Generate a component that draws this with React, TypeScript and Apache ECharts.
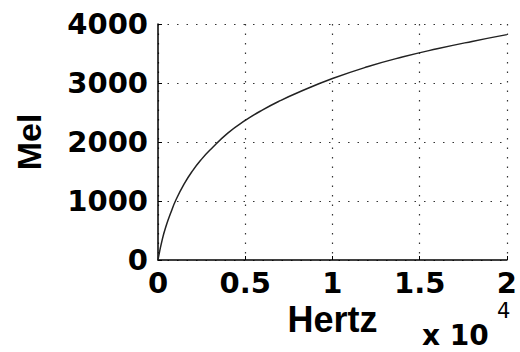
import React, { useEffect, useRef } from "react";
import * as echarts from "echarts";

const hertz = [0, 250, 500, 750, 1000, 1500, 2000, 2500, 3000, 4000, 5000, 6000, 7000, 8000, 10000, 12000, 14000, 16000, 18000, 20000];
const mel = [0, 355, 610, 815, 1000, 1290, 1520, 1710, 1870, 2150, 2365, 2545, 2700, 2835, 3075, 3275, 3440, 3580, 3705, 3820];
const xTicks = ["0", "0.5", "1", "1.5", "2"];
const yTicks = ["0", "1000", "2000", "3000", "4000"];

export default function App() {
  const ref = useRef<HTMLDivElement>(null);
  useEffect(() => {
    if (!ref.current) return;
    const chart = echarts.init(ref.current, null, { renderer: "svg" });
    const tickFont = { fontFamily: "DejaVu Sans", fontWeight: "bold" as const, fontSize: 29, color: "#000" };
    const grid = { type: [1.5, 8] as any, color: "#333", width: 1.2 };
    chart.setOption({
      animation: false,
      backgroundColor: "#fff",
      grid: { left: 158, top: 24, right: 12, bottom: 92, containLabel: false },
      xAxis: {
        type: "value",
        min: 0,
        max: 20000,
        interval: 5000,
        name: "Hertz",
        nameLocation: "middle",
        nameGap: 29,
        nameTextStyle: { fontFamily: "Liberation Sans", fontWeight: "bold", fontSize: 36, color: "#000" },
        axisLine: { show: true, onZero: false, lineStyle: { color: "#000", width: 1.5 } },
        axisTick: { show: true, inside: true, length: 4, lineStyle: { color: "#000" } },
        axisLabel: { ...tickFont, margin: 8, formatter: (v: number) => xTicks[Math.round(v / 5000)] },
        splitLine: { show: true, lineStyle: grid },
      },
      yAxis: {
        type: "value",
        min: 0,
        max: 4000,
        interval: 1000,
        name: "Mel",
        nameLocation: "middle",
        nameGap: 112,
        nameRotate: 90,
        nameTextStyle: { fontFamily: "Liberation Sans", fontWeight: "bold", fontSize: 34, color: "#000" },
        axisLine: { show: true, lineStyle: { color: "#000", width: 1.5 } },
        axisTick: { show: true, inside: true, length: 4, lineStyle: { color: "#000" } },
        axisLabel: { ...tickFont, margin: 10, formatter: (v: number) => yTicks[Math.round(v / 1000)] },
        splitLine: { show: true, lineStyle: grid },
      },
      graphic: [
        { type: "text", left: 422, top: 321, style: { text: "x 10", fontFamily: "DejaVu Sans", fontWeight: "bold", fontSize: 28, fill: "#000" } },
        { type: "text", left: 497, top: 300, style: { text: "4", fontFamily: "DejaVu Sans", fontSize: 21, fill: "#000" } },
      ],
      series: [
        {
          type: "line",
          data: hertz.map((h, i) => [h, mel[i]]),
          showSymbol: false,
          smooth: true,
          lineStyle: { color: "#222", width: 1.5 },
        },
      ],
    });
    return () => chart.dispose();
  }, []);
  return <div ref={ref} style={{ width: 520, height: 352, position: "absolute", left: 0, top: 0 }} />;
}
